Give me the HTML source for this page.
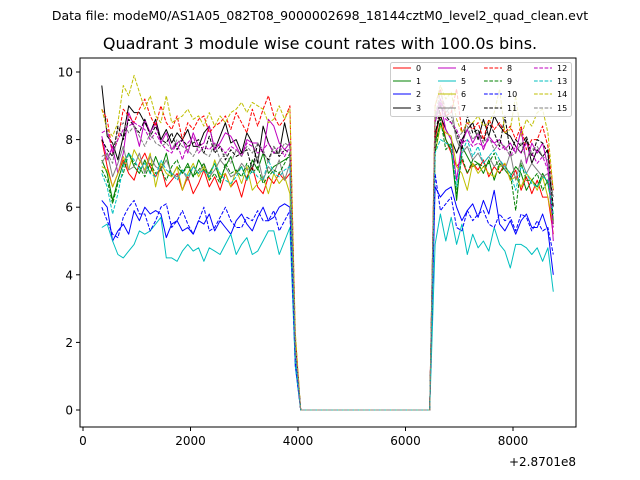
<!DOCTYPE html>
<html><head><meta charset="utf-8"><style>
body{margin:0;background:#fff}
svg{display:block;font-family:"DejaVu Sans","Liberation Sans",sans-serif}
</style></head><body>
<svg id="chart" width="640" height="480" viewBox="0 0 640 480">
<rect width="640" height="480" fill="#fff"/>
<text x="320" y="20" text-anchor="middle" font-size="12.5">Data file: modeM0/AS1A05_082T08_9000002698_18144cztM0_level2_quad_clean.evt</text>
<text x="320" y="49" text-anchor="middle" font-size="16">Quadrant 3 module wise count rates with 100.0s bins.</text>
<g id="plot"></g>
<g id="axes"></g>
<g id="legend"></g>
</svg>
<script>
const T_START = 350, T_STEP = 100;
const ZEROS = [0,0,0,0,0,0,0,0,0,0,0,0,0,0,0,0,0,0,0,0,0,0,0,0,0];
const xTicks = [0,2000,4000,6000,8000];
const yTicks = [0,2,4,6,8,10];
const labels = ["0","1","2","3","4","5","6","7","8","9","10","11","12","13","14","15"];
const colors = ["#ff0000","#008000","#0000ff","#000000","#bf00bf","#00bfbf","#bfbf00","#808080","#ff0000","#008000","#0000ff","#000000","#bf00bf","#00bfbf","#bfbf00","#808080"];
const s0a=[8.0,7.2,6.6,7.0,7.4,7.0,6.8,7.3,7.6,7.2,6.9,7.2,6.6,6.8,7.0,6.5,6.9,6.4,6.7,7.1,6.6,6.9,6.5,7.0,6.6,6.8,6.3,6.9,7.2,6.6,6.4,6.9,6.7,7.0,6.8,7.0], s0d=[1.5], s0b=[8.0,8.8,8.0,7.6,7.2,7.4,7.0,7.3,7.1,7.4,6.9,7.2,7.0,7.3,6.8,7.1,6.5,6.9,6.4,6.8,6.3,6.3,5.2];
const s1a=[7.4,7.0,6.2,6.8,7.3,7.6,7.2,7.0,7.4,7.0,7.5,7.1,7.6,6.9,7.2,7.0,7.3,6.9,7.4,7.1,7.0,7.3,6.8,7.2,7.5,7.0,7.2,6.8,7.4,7.1,7.6,7.0,7.2,7.3,7.4,7.5], s1d=[1.6], s1b=[7.9,8.5,8.0,7.7,6.2,7.8,7.5,7.2,7.3,7.0,7.4,6.8,7.3,7.1,6.9,7.2,7.0,6.5,6.8,6.6,7.0,6.7,5.8];
const s2a=[6.2,6.0,5.0,5.3,5.5,5.2,5.9,5.6,6.0,5.8,5.9,5.8,5.1,5.5,5.6,5.3,5.4,5.2,5.6,5.5,5.8,5.3,5.6,5.4,5.2,5.6,5.8,5.5,5.3,5.7,6.0,5.6,5.7,6.0,6.1,6.0], s2d=[1.3], s2b=[6.6,6.3,6.5,6.6,6.0,5.6,5.9,6.1,5.7,6.2,5.8,6.5,5.5,5.3,5.6,5.2,5.6,5.8,5.4,5.4,5.8,5.3,4.0];
const s3a=[9.6,8.1,7.9,7.4,8.1,9.0,8.8,8.8,8.5,8.2,8.6,8.0,8.3,7.9,8.2,8.0,8.3,7.8,7.8,8.2,8.4,7.7,8.1,8.5,7.9,8.0,7.6,8.2,7.9,7.3,8.4,7.9,7.6,7.6,8.5,7.8], s3d=[2.0], s3b=[8.2,8.7,8.3,8.0,7.6,8.0,8.3,8.5,8.0,8.6,8.1,8.7,8.4,8.2,8.1,7.8,7.6,8.0,7.3,7.7,7.5,7.7,5.5];
const s4a=[8.1,7.4,7.8,7.0,7.6,8.8,8.4,7.8,8.6,8.2,8.5,7.9,8.2,7.7,7.9,8.0,7.6,8.2,7.8,7.9,8.4,7.7,7.9,8.2,8.1,7.8,7.5,8.0,7.9,7.9,7.6,8.6,8.4,7.9,7.7,7.9], s4d=[1.8], s4b=[8.5,9.1,8.3,8.0,6.8,7.9,8.3,7.9,8.2,7.7,8.1,7.9,8.0,7.7,7.9,7.6,8.3,7.3,7.9,7.6,7.9,7.2,5.0];
const s5a=[5.4,5.5,5.0,4.6,4.5,4.7,4.9,5.3,5.2,5.3,5.5,5.7,4.5,4.5,4.4,4.7,4.9,4.7,4.8,4.4,4.8,4.7,4.6,4.9,5.2,4.6,4.9,5.1,4.6,4.7,5.0,5.3,5.3,4.6,5.0,5.4], s5d=[1.3], s5b=[4.9,5.8,5.0,5.7,4.9,5.5,4.6,5.2,4.8,5.0,4.7,5.4,4.9,4.7,4.2,4.9,4.9,4.8,4.6,4.8,4.4,4.8,3.5];
const s6a=[7.2,7.1,6.6,7.0,7.5,7.1,7.7,7.4,7.1,7.6,6.6,7.3,7.0,6.9,7.2,6.5,7.0,7.3,6.9,7.2,6.8,7.4,6.9,7.0,6.6,7.1,6.7,7.2,6.5,6.7,6.9,6.4,7.0,6.7,6.9,6.4], s6d=[1.6], s6b=[7.6,8.4,8.2,8.1,7.2,7.0,6.5,7.3,7.0,7.2,7.0,6.9,7.2,7.3,6.8,6.9,6.6,7.0,6.8,6.5,6.9,6.3,5.5];
const s7a=[7.3,7.6,6.9,7.3,7.8,7.1,7.2,7.6,7.0,7.5,7.2,7.1,7.4,7.0,6.9,7.1,6.8,7.2,7.0,7.3,6.9,7.1,7.4,7.2,6.9,7.0,7.3,7.1,7.2,7.5,6.8,7.2,7.0,7.4,6.8,7.3], s7d=[1.7], s7b=[8.6,9.2,8.8,9.0,8.0,7.6,7.8,7.4,7.6,7.3,7.5,7.2,7.4,7.1,7.6,6.8,7.4,7.0,7.3,7.1,6.9,7.0,6.0];
const s8a=[8.9,8.6,7.6,8.0,8.9,8.7,8.5,8.9,9.2,8.7,8.4,9.0,8.5,8.3,8.7,8.0,8.5,8.3,8.6,8.7,8.2,8.4,8.5,8.7,8.3,8.8,8.5,8.2,8.9,8.4,8.9,9.3,8.7,8.4,8.6,9.0], s8d=[2.2], s8b=[9.0,9.5,8.7,8.8,9.5,8.2,8.5,8.3,8.5,8.0,8.6,8.3,8.5,8.2,8.4,8.0,8.4,7.7,8.0,8.0,8.4,7.8,6.5];
const s9a=[7.1,6.8,6.1,6.7,7.0,7.6,7.3,7.2,6.9,7.3,7.0,7.1,6.8,7.2,7.4,7.0,7.2,6.9,7.1,7.3,6.8,7.0,6.7,7.3,7.0,7.1,6.9,7.3,7.0,7.2,6.7,6.9,7.1,7.0,7.3,7.6], s9d=[1.7], s9b=[7.6,8.6,7.7,7.9,6.4,7.5,7.0,7.4,7.3,7.2,7.3,7.6,7.0,7.2,7.0,5.9,7.3,6.8,6.8,7.0,6.5,6.8,5.6];
const s10a=[6.0,5.6,5.2,5.1,5.7,6.0,6.2,5.8,5.8,5.3,5.6,6.0,6.1,5.4,5.6,5.9,5.5,5.2,5.6,6.0,5.3,5.4,5.7,6.0,5.6,5.4,5.4,5.7,5.6,5.9,5.6,5.6,5.9,5.3,5.6,5.9], s10d=[1.4], s10b=[7.0,5.9,6.1,6.3,5.4,5.3,5.9,5.6,5.8,5.9,5.5,5.4,5.8,5.6,5.7,5.3,5.8,5.7,5.3,5.6,5.3,5.4,4.6];
const s11a=[8.0,7.7,7.5,8.4,8.0,8.6,8.4,8.2,8.6,8.1,8.4,8.0,7.9,8.2,7.7,8.0,7.8,7.9,8.0,7.6,8.1,7.6,7.8,7.4,7.7,7.5,7.6,7.7,7.1,7.9,7.6,7.4,7.8,7.5,7.7,7.6], s11d=[1.9], s11b=[8.1,9.0,8.7,8.5,8.2,7.7,8.7,8.2,8.3,7.9,8.5,8.2,7.8,8.7,7.6,8.0,7.8,8.1,7.5,8.0,7.9,7.6,6.0];
const s12a=[8.2,8.3,7.6,8.0,8.3,8.4,8.5,8.4,8.3,8.0,8.2,7.9,7.7,7.6,7.9,7.4,7.9,8.1,7.6,7.8,7.7,7.9,7.8,7.6,7.8,7.7,7.5,7.9,7.8,7.6,7.7,7.9,7.6,7.8,7.5,7.8], s12d=[1.8], s12b=[8.7,9.2,8.6,8.5,8.3,7.9,8.0,7.8,7.9,7.8,8.0,7.9,7.7,7.8,7.5,7.8,7.6,7.9,7.6,7.3,7.5,7.1,5.4];
const s13a=[7.0,6.6,5.8,6.4,7.2,7.6,7.4,7.1,7.3,7.0,6.9,7.4,7.1,7.0,6.8,7.1,6.9,7.2,7.0,7.1,6.9,7.3,7.0,6.8,6.7,6.9,7.2,6.8,7.1,6.9,6.8,7.4,7.0,6.9,7.1,7.2], s13d=[1.6], s13b=[7.6,8.0,7.9,7.8,6.6,7.6,8.0,7.5,7.8,7.3,7.5,7.7,7.4,7.2,7.0,6.5,7.2,7.0,6.7,6.6,6.9,6.8,5.8];
const s14a=[8.9,8.3,8.1,8.5,9.6,9.3,9.9,9.4,8.9,9.3,8.7,8.5,9.3,8.5,8.6,8.7,8.9,8.6,8.7,8.4,8.8,8.4,8.7,8.5,8.8,8.9,9.1,8.8,9.1,9.0,8.9,8.5,8.6,9.0,8.6,8.9], s14d=[2.3], s14b=[9.0,9.6,9.2,9.4,8.6,8.2,8.5,8.5,8.7,8.4,8.5,8.8,9.5,8.2,8.3,9.3,8.1,8.6,8.4,8.8,8.9,8.2,6.5];
const s15a=[7.5,7.6,7.3,8.3,8.5,8.2,8.4,8.1,7.8,8.2,7.9,7.8,7.9,7.7,8.0,7.8,7.7,7.5,7.8,7.6,7.5,7.9,7.4,7.6,7.3,7.7,7.5,7.8,7.6,7.9,7.7,7.3,7.8,7.6,7.9,7.8], s15d=[1.9], s15b=[8.7,9.4,8.9,8.7,8.0,8.2,8.4,8.0,8.2,7.9,8.1,7.7,7.9,7.8,7.5,7.6,7.9,7.4,7.7,7.8,7.5,7.4,6.3];

const series = [
  s0a.concat(s0d,ZEROS,s0b), s1a.concat(s1d,ZEROS,s1b), s2a.concat(s2d,ZEROS,s2b), s3a.concat(s3d,ZEROS,s3b),
  s4a.concat(s4d,ZEROS,s4b), s5a.concat(s5d,ZEROS,s5b), s6a.concat(s6d,ZEROS,s6b), s7a.concat(s7d,ZEROS,s7b),
  s8a.concat(s8d,ZEROS,s8b), s9a.concat(s9d,ZEROS,s9b), s10a.concat(s10d,ZEROS,s10b), s11a.concat(s11d,ZEROS,s11b),
  s12a.concat(s12d,ZEROS,s12b), s13a.concat(s13d,ZEROS,s13b), s14a.concat(s14d,ZEROS,s14b), s15a.concat(s15d,ZEROS,s15b)
];

const NS = "http://www.w3.org/2000/svg";
const L = 80, R = 576, T = 58, B = 427;
function xs(t){ return 83 + t * 0.05375; }
function ys(v){ return 410 - v * 33.8; }
function mk(tag, attrs, parent){ const e = document.createElementNS(NS, tag); for (const k in attrs) e.setAttribute(k, attrs[k]); parent.appendChild(e); return e; }

const plot = document.getElementById('plot');
series.forEach((vals, i) => {
  const pts = vals.map((v, k) => xs(T_START + k * T_STEP).toFixed(1) + ',' + ys(v).toFixed(1)).join(' ');
  const pl = mk('polyline', {points: pts, fill: 'none', stroke: colors[i], 'stroke-width': 1, 'stroke-linejoin': 'round'}, plot);
  if (i >= 8) pl.setAttribute('stroke-dasharray', '3.7,1.6');
  
  
});

const axes = document.getElementById('axes');
const frame = mk('rect', {x: L, y: T, width: R - L, height: B - T, fill: 'none', stroke: '#000', 'stroke-width': 1}, axes);


xTicks.forEach(t => {
  const x = xs(t);
  const tk = mk('line', {x1: x, x2: x, y1: B, y2: B + 4, stroke: '#000'}, axes);
  
  
  const tx = mk('text', {x: x, y: B + 18, 'text-anchor': 'middle', 'font-size': 12}, axes);
  tx.textContent = t;
  
  
});
yTicks.forEach(v => {
  const y = ys(v);
  const tk = mk('line', {x1: L - 4, x2: L, y1: y, y2: y, stroke: '#000'}, axes);
  
  
  const tx = mk('text', {x: L - 7, y: y + 4.5, 'text-anchor': 'end', 'font-size': 12}, axes);
  tx.textContent = v;
  
  
});
const off = mk('text', {x: R, y: 466, 'text-anchor': 'end', 'font-size': 12}, axes);
off.textContent = '+2.8701e8';



const leg = document.getElementById('legend');
const box = mk('rect', {x: 390.5, y: 62.5, width: 181, height: 54, rx: 2, fill: '#fff', 'fill-opacity': 0.8, stroke: '#ccc'}, leg);


const colX = [393, 438, 484, 534], rowY = [68, 81, 94, 108];
labels.forEach((lab, i) => {
  const c = Math.floor(i / 4), r = i % 4;
  const g = mk('g', {}, leg);
  
  
  const ln = mk('line', {x1: colX[c], x2: colX[c] + 18, y1: rowY[r], y2: rowY[r], stroke: colors[i], 'stroke-width': 1}, g);
  if (i >= 8) ln.setAttribute('stroke-dasharray', '3.7,1.6');
  
  
  const tx = mk('text', {x: colX[c] + 23, y: rowY[r] + 3, 'font-size': 8}, g);
  tx.textContent = lab;
  
  
});
</script>
</body></html>
